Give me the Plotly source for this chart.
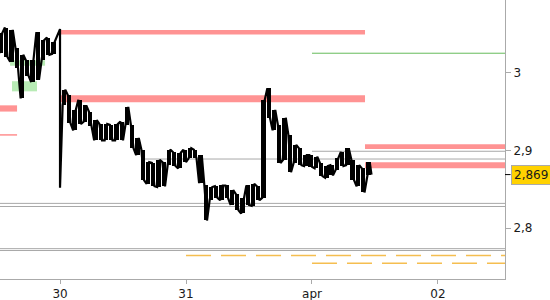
import pandas as pd
import plotly.graph_objects as go

# ---- price data: hourly buckets starting 2021-03-29 12:30 (high / low) ----
bucket_start = "2021-03-29 12:30"
highs = [3.051, 3.058, 3.055, 3.032, 3.023, 3.016, 3.016, 3.052, 3.042, 3.045,
         3.040, 3.056, 2.978, 2.971, 2.952, 2.965, 2.958, 2.950, 2.939, 2.934,
         2.934, 2.933, 2.934, 2.937, 2.956, 2.933, 2.916, 2.901, 2.885, 2.884,
         2.888, 2.885, 2.901, 2.898, 2.897, 2.901, 2.903, 2.901, 2.894, 2.855,
         2.853, 2.854, 2.855, 2.855, 2.849, 2.844, 2.839, 2.855, 2.857, 2.854,
         2.965, 2.980, 2.952, 2.933, 2.942, 2.920, 2.907, 2.903, 2.894, 2.894,
         2.892, 2.884, 2.880, 2.881, 2.890, 2.898, 2.903, 2.888, 2.881, 2.877,
         2.885]
lows = [3.025, 3.020, 3.014, 3.006, 2.967, 2.996, 2.988, 2.991, 3.016, 3.023,
        3.024, 2.852, 2.958, 2.935, 2.926, 2.934, 2.937, 2.931, 2.913, 2.913,
        2.913, 2.913, 2.913, 2.913, 2.933, 2.903, 2.894, 2.862, 2.857, 2.854,
        2.853, 2.854, 2.881, 2.880, 2.877, 2.885, 2.890, 2.890, 2.858, 2.810,
        2.836, 2.839, 2.836, 2.839, 2.830, 2.823, 2.819, 2.830, 2.829, 2.836,
        2.839, 2.942, 2.926, 2.884, 2.888, 2.872, 2.884, 2.881, 2.880, 2.879,
        2.877, 2.867, 2.865, 2.868, 2.875, 2.880, 2.881, 2.862, 2.854, 2.846,
        2.868]
last_time = "2021-04-01 11:20"
last_price = 2.869

# ---- levels ----
# red zones: (start, end, low, high)
red_zones = [
    ("2021-03-30 00:10", "2021-04-01 10:06", 3.049, 3.055),
    ("2021-03-29 12:34", "2021-03-29 15:49", 2.950, 2.958),
    ("2021-03-29 12:34", "2021-03-29 15:49", 2.919, 2.921),
    ("2021-03-30 00:10", "2021-04-01 10:06", 2.962, 2.971),
    ("2021-04-01 10:06", "2021-04-02 12:46", 2.902, 2.908),
    ("2021-04-01 10:06", "2021-04-02 12:46", 2.877, 2.885),
]
green_zones = [
    ("2021-03-29 14:29", "2021-03-29 21:09", 3.009, 3.016),
    ("2021-03-29 14:51", "2021-03-29 19:37", 2.976, 2.989),
]
green_lines = [("2021-04-01 00:00", 3.025)]
gray_lines = [
    ("2021-03-30 16:11", 2.889),
    ("2021-04-01 00:00", 2.899),
    ("2021-03-29 12:34", 2.832),
    ("2021-03-29 12:34", 2.828),
    ("2021-03-29 12:34", 2.7738),
    ("2021-03-29 12:34", 2.7714),
]
orange_lines = [("2021-03-31 00:00", 2.765), ("2021-04-01 00:00", 2.755)]

x_start, x_end = "2021-03-29 12:34", "2021-04-02 12:46"
y_min, y_max = 2.7348, 3.0934
x_tickvals = ["2021-03-30", "2021-03-31", "2021-04-01", "2021-04-02"]
x_ticktext = ["30", "31", "apr", "02"]
y_tickvals = [2.8, 2.9, 3.0]
y_ticktext = ["2,8", "2,9", "3"]

# ---- build zig-zag high/low path and range bars ----
t0 = pd.Timestamp(bucket_start)
xs, ys = [], []
bar_x, bar_base, bar_len = [], [], []
for h, (hi, lo) in enumerate(zip(highs, lows)):
    ta = t0 + pd.Timedelta(hours=h)
    tb = ta + pd.Timedelta(minutes=30)
    if h == 11:
        # session gap at midnight: straight vertical drop
        xs += [tb, tb]; ys += [hi, lo]
    elif h % 2 == 0:
        xs += [ta, tb]; ys += [lo, hi]
    else:
        xs += [ta, tb]; ys += [hi, lo]
    if h != 11:
        bar_x.append(ta + pd.Timedelta(minutes=15))
        bar_base.append(lo)
        bar_len.append(hi - lo)
xs.append(pd.Timestamp(last_time)); ys.append(last_price)

fig = go.Figure()
fig.add_trace(go.Bar(x=bar_x, y=bar_len, base=bar_base,
                     width=[50 * 60 * 1000] * len(bar_x),
                     marker=dict(color="black", line=dict(width=0)),
                     hoverinfo="skip", showlegend=False))
fig.add_trace(go.Scatter(x=xs, y=ys, mode="lines",
                         line=dict(color="black", width=2.2),
                         hoverinfo="skip", showlegend=False))

shapes = []
for s, e, lo, hi in red_zones:
    shapes.append(dict(type="rect", xref="x", yref="y", x0=s, x1=e, y0=lo, y1=hi,
                       fillcolor="#FF9393", line=dict(width=0), layer="below"))
for s, e, lo, hi in green_zones:
    shapes.append(dict(type="rect", xref="x", yref="y", x0=s, x1=e, y0=lo, y1=hi,
                       fillcolor="#B8EBB5", line=dict(width=0), layer="below"))
for s, v in green_lines:
    shapes.append(dict(type="line", xref="x", yref="y", x0=s, x1=x_end, y0=v, y1=v,
                       line=dict(color="#66BB5A", width=1), layer="below"))
for s, v in gray_lines:
    shapes.append(dict(type="line", xref="x", yref="y", x0=s, x1=x_end, y0=v, y1=v,
                       line=dict(color="#A8A8A8", width=1), layer="below"))
for s, v in orange_lines:
    shapes.append(dict(type="line", xref="x", yref="y", x0=s, x1=x_end, y0=v, y1=v,
                       line=dict(color="#F5BE50", width=1.4, dash="25px,10px"), layer="below"))
# last price tick mark
shapes.append(dict(type="line", xref="paper", yref="y", x0=1, x1=1.011,
                   y0=last_price, y1=last_price, line=dict(color="black", width=1)))

font = dict(family="DejaVu Sans", size=12, color="#1a1a1a")
fig.update_layout(
    width=550, height=300,
    margin=dict(l=0, r=45, t=0, b=21),
    paper_bgcolor="white", plot_bgcolor="white",
    shapes=shapes,
    font=font,
    bargap=0,
    xaxis=dict(type="date", range=[x_start, x_end], tickvals=x_tickvals,
               ticktext=x_ticktext, showgrid=False, zeroline=False,
               showline=True, linecolor="#AAAAAA", linewidth=1,
               ticks="outside", ticklen=4, tickcolor="#AAAAAA", tickfont=font),
    yaxis=dict(range=[y_min, y_max], side="right", tickvals=y_tickvals,
               ticktext=y_ticktext, showgrid=False, zeroline=False,
               showline=True, linecolor="#AAAAAA", linewidth=1,
               ticks="outside", ticklen=5, tickcolor="#AAAAAA", tickfont=font),
    annotations=[
        dict(xref="paper", yref="y", x=1, y=last_price, xanchor="left",
             yanchor="middle", xshift=6, showarrow=False,
             text=f"{last_price:.3f}".replace(".", ","), font=font,
             bgcolor="#FFD200", bordercolor="#AAAAAA", borderwidth=1, borderpad=2),
        dict(xref="paper", yref="y", x=1, y=3.1, xanchor="left", yanchor="middle",
             xshift=7, showarrow=False, text="3,1", font=font),
    ],
)

fig.write_html("out.html")
